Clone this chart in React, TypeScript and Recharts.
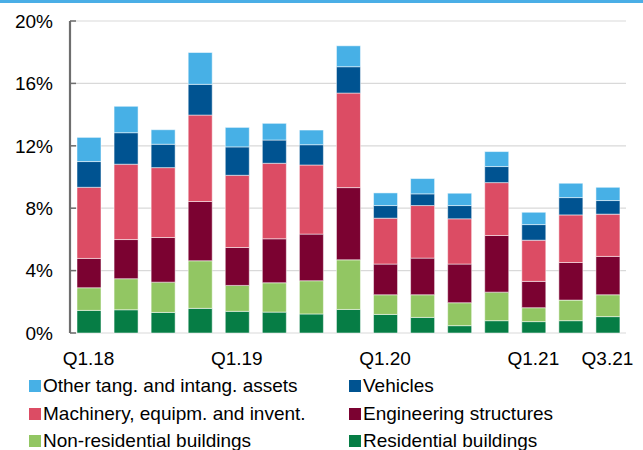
import React from 'react';
import { BarChart, Bar, XAxis, YAxis, CartesianGrid } from 'recharts';

const quarters = [
  'Q1.18', 'Q2.18', 'Q3.18', 'Q4.18',
  'Q1.19', 'Q2.19', 'Q3.19', 'Q4.19',
  'Q1.20', 'Q2.20', 'Q3.20', 'Q4.20',
  'Q1.21', 'Q2.21', 'Q3.21',
];
const shownLabels = ['Q1.18', 'Q1.19', 'Q1.20', 'Q1.21', 'Q3.21'];
const yTicks = [0, 4, 8, 12, 16, 20];
const boundaryTicks = [1, 2, 3, 4, 5, 6, 7, 8, 9, 10, 11, 12, 13, 14];

const residential = [1.45, 1.49, 1.32, 1.58, 1.39, 1.34, 1.22, 1.51, 1.19, 1.0, 0.47, 0.79, 0.73, 0.79, 1.05];
const nonResidential = [1.45, 1.99, 1.94, 3.05, 1.66, 1.88, 2.13, 3.18, 1.26, 1.45, 1.47, 1.83, 0.89, 1.32, 1.4];
const engineering = [1.88, 2.51, 2.86, 3.8, 2.43, 2.82, 2.99, 4.63, 1.97, 2.35, 2.48, 3.63, 1.69, 2.41, 2.46];
const machinery = [4.56, 4.83, 4.48, 5.54, 4.63, 4.84, 4.43, 6.06, 2.94, 3.37, 2.9, 3.39, 2.64, 3.05, 2.71];
const vehicles = [1.65, 2.02, 1.5, 1.97, 1.82, 1.49, 1.3, 1.69, 0.81, 0.75, 0.85, 1.03, 1.0, 1.11, 0.87];
const other = [1.55, 1.69, 0.93, 2.04, 1.25, 1.07, 0.94, 1.34, 0.81, 0.98, 0.79, 0.96, 0.79, 0.92, 0.85];

const series = [
  { key: 'residential', name: 'Residential buildings', color: '#067d45', values: residential },
  { key: 'nonResidential', name: 'Non-residential buildings', color: '#92c663', values: nonResidential },
  { key: 'engineering', name: 'Engineering structures', color: '#7b0231', values: engineering },
  { key: 'machinery', name: 'Machinery, equipm. and invent.', color: '#dc4c64', values: machinery },
  { key: 'vehicles', name: 'Vehicles', color: '#005391', values: vehicles },
  { key: 'other', name: 'Other tang. and intang. assets', color: '#47b0e6', values: other },
];

// legend layout: left column / right column, top to bottom
const legendRows = [
  ['other', 'vehicles'],
  ['machinery', 'engineering'],
  ['nonResidential', 'residential'],
];

const data = quarters.map((q, i) => {
  const row: Record<string, number | string> = { q };
  series.forEach((s) => {
    row[s.key] = s.values[i];
  });
  return row;
});

const font = '"Liberation Sans", Arial, sans-serif';
const axisColor = '#6e6e6e';

const App: React.FC = () => {
  return (
    <div style={{ position: 'absolute', left: 0, top: 0, width: 643, height: 450, background: '#fff', fontFamily: font, overflow: 'hidden' }}>
      <div style={{ position: 'absolute', left: 0, top: 0, width: 643, height: 3, background: '#4aaee6' }} />
      <BarChart
        width={643}
        height={450}
        data={data}
        margin={{ top: 21, right: 17, left: 0, bottom: 0 }}
        barSize={24}
      >
        <CartesianGrid vertical={false} stroke="#d9d9d9" strokeWidth={1.2} />
        {series.map((s) => (
          <Bar
            key={s.key}
            dataKey={s.key}
            name={s.name}
            stackId="a"
            fill={s.color}
            stroke="#ffffff"
            strokeWidth={0.5}
            isAnimationActive={false}
          />
        ))}
        <XAxis
          xAxisId="bounds"
          type="number"
          domain={[0, 15]}
          allowDataOverflow
          ticks={boundaryTicks}
          interval={0}
          height={0}
          tickSize={-5}
          tickFormatter={() => ''}
          tickLine={{ stroke: axisColor, strokeWidth: 1.5 }}
          axisLine={{ stroke: axisColor, strokeWidth: 2.2 }}
        />
        <XAxis
          dataKey="q"
          interval={0}
          height={117}
          tickSize={0}
          tickMargin={19}
          axisLine={false}
          tickLine={false}
          tickFormatter={(v: string) => (shownLabels.includes(v) ? v : '')}
          tick={{ fill: '#000', fontSize: 19, fontFamily: font }}
        />
        <XAxis
          xAxisId="top"
          orientation="top"
          height={0}
          tick={false}
          tickLine={false}
          axisLine={{ stroke: axisColor, strokeWidth: 1.5 }}
        />
        <YAxis
          width={70}
          domain={[0, 20]}
          ticks={yTicks}
          interval={0}
          tickSize={-6}
          tickMargin={23}
          tickFormatter={(v: number) => `${v}%`}
          tick={{ fill: '#000', fontSize: 19, fontFamily: font }}
          tickLine={{ stroke: axisColor, strokeWidth: 1.5 }}
          axisLine={{ stroke: axisColor, strokeWidth: 2.2 }}
        />
        <YAxis
          yAxisId="right"
          orientation="right"
          width={0}
          domain={[0, 20]}
          tick={false}
          tickLine={false}
          axisLine={{ stroke: axisColor, strokeWidth: 1.5 }}
        />
      </BarChart>
      {legendRows.map((row, r) =>
        row.map((key, c) => {
          const s = series.find((x) => x.key === key)!;
          return (
            <div
              key={key}
              style={{
                position: 'absolute',
                left: c === 0 ? 29 : 349,
                top: 375 + r * 27.7,
                height: 22,
                display: 'flex',
                alignItems: 'center',
                fontSize: 19,
                color: '#000',
                whiteSpace: 'nowrap',
              }}
            >
              <span style={{ display: 'inline-block', width: 12, height: 12, background: s.color, marginRight: 2 }} />
              <span>{s.name}</span>
            </div>
          );
        })
      )}
    </div>
  );
};

export default App;
